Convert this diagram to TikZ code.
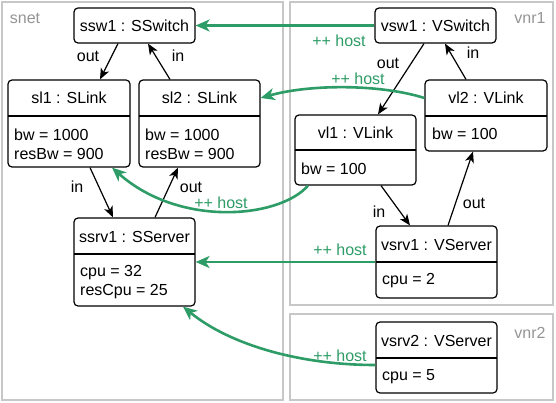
\documentclass[tikz,border=0pt]{standalone}
\usepackage{fontspec}
\setmainfont{Liberation Sans}
\usetikzlibrary{arrows.meta}
\definecolor{hostgreen}{RGB}{46,156,102}
\begin{document}
\begin{tikzpicture}[x=1pt,y=-1pt,
  font=\fontsize{16}{19}\selectfont,
  umlbox/.style={draw=black, line width=1.2pt, rounded corners=4pt, inner sep=0pt, fill=white},
  divider/.style={draw=black, line width=1.2pt},
  cont/.style={draw=black!22, line width=1.3pt},
  contlabel/.style={text=black!42, inner sep=0pt},
  txt/.style={inner sep=0pt},
  attr/.style={inner sep=0pt, anchor=west, align=left},
  rel/.style={draw=black, line width=1.2pt, -{Stealth[length=11pt,width=9pt,inset=3pt]}},
  rellabel/.style={inner sep=0pt},
  host/.style={draw=hostgreen, line width=2.6pt, -{Stealth[length=14pt,width=12pt,inset=4pt]}},
  hostlabel/.style={text=hostgreen, inner sep=0pt},
]
\useasboundingbox (0,0) rectangle (556,403);

% containers
\draw[cont] (2,2) rectangle (283,400);
\draw[cont] (290,2) rectangle (553,305);
\draw[cont] (290,314) rectangle (553,400);
\node[contlabel] (snetlbl) at (25,18) {snet};
\node[contlabel] (vnr1lbl) at (530,18) {vnr1};
\node[contlabel] (vnr2lbl) at (530,333) {vnr2};

% snet nodes
\node[umlbox, minimum width=121pt, minimum height=35pt] (ssw1) at (134.5,25.5) {};
\node[txt] (ssw1t) at (134.5,25.5) {ssw1 : SSwitch};

\node[umlbox, minimum width=122pt, minimum height=87pt] (sl1) at (69,123.5) {};
\draw[divider] (8,116) -- (130,116);
\node[txt] (sl1t) at (69,98) {sl1 : SLink};
\node[attr] (sl1a) at (14,144.5) {bw = 1000\\resBw = 900};

\node[umlbox, minimum width=121pt, minimum height=87pt] (sl2) at (199.5,123.5) {};
\draw[divider] (139,116) -- (260,116);
\node[txt] (sl2t) at (199.5,98) {sl2 : SLink};
\node[attr] (sl2a) at (145,144.5) {bw = 1000\\resBw = 900};

\node[umlbox, minimum width=121pt, minimum height=88pt] (ssrv1) at (134.5,262) {};
\draw[divider] (74,254) -- (195,254);
\node[txt] (ssrv1t) at (134.5,237) {ssrv1 : SServer};
\node[attr] (ssrv1a) at (80,282.5) {cpu = 32\\resCpu = 25};

% vnr1 nodes
\node[umlbox, minimum width=121pt, minimum height=35pt] (vsw1) at (435.5,25.5) {};
\node[txt] (vsw1t) at (435.5,25.5) {vsw1 : VSwitch};

\node[umlbox, minimum width=121pt, minimum height=70pt] (vl1) at (355.5,150) {};
\draw[divider] (295,150) -- (416,150);
\node[txt] (vl1t) at (355.5,133) {vl1 : VLink};
\node[attr] (vl1a) at (301,169) {bw = 100};

\node[umlbox, minimum width=122pt, minimum height=71pt] (vl2) at (486,115.5) {};
\draw[divider] (425,116) -- (547,116);
\node[txt] (vl2t) at (486,98) {vl2 : VLink};
\node[attr] (vl2a) at (432,134) {bw = 100};

\node[umlbox, minimum width=121pt, minimum height=72pt] (vsrv1) at (436.5,262) {};
\draw[divider] (376,262) -- (497,262);
\node[txt] (vsrv1t) at (436.5,245) {vsrv1 : VServer};
\node[attr] (vsrv1a) at (382,281) {cpu = 2};

% vnr2 node
\node[umlbox, minimum width=121pt, minimum height=71pt] (vsrv2) at (436.5,357.5) {};
\draw[divider] (376,358) -- (497,358);
\node[txt] (vsrv2t) at (436.5,341) {vsrv2 : VServer};
\node[attr] (vsrv2a) at (382,377) {cpu = 5};

% black relations
\draw[rel] ([xshift=-16.5pt]ssw1.south) -- ([xshift=31pt]sl1.north);
\node[rellabel] (l1) at (88,56) {out};
\draw[rel] ([xshift=-29.5pt]sl2.north) -- ([xshift=13.5pt]ssw1.south);
\node[rellabel] (l2) at (178,56) {in};
\draw[rel] ([xshift=21pt]sl1.south) -- ([xshift=-21.5pt]ssrv1.north);
\node[rellabel] (l3) at (77,187) {in};
\draw[rel] ([xshift=20.5pt]ssrv1.north) -- ([xshift=-21.5pt]sl2.south);
\node[rellabel] (l4) at (191,187) {out};

\draw[rel] ([xshift=-11.5pt]vsw1.south) -- ([xshift=22.5pt]vl1.north);
\node[rellabel] (l5) at (388,63) {out};
\draw[rel] ([xshift=-20pt]vl2.north) -- ([xshift=9.5pt]vsw1.south);
\node[rellabel] (l6) at (473,53) {in};
\draw[rel] ([xshift=25.5pt]vl1.south) -- ([xshift=-26.5pt]vsrv1.north);
\node[rellabel] (l7) at (379,212) {in};
\draw[rel] ([xshift=11.5pt]vsrv1.north) -- ([xshift=-13pt]vl2.south);
\node[rellabel] (l8) at (474,203) {out};

% host relations
\draw[host] (vsw1.west) -- (ssw1.east);
\node[hostlabel] (h1) at (339,41) {++ host};
\draw[host] ([yshift=17.5pt]vl2.west) .. controls (380,84) and (310,84) .. ([yshift=25.5pt]sl2.east);
\node[hostlabel] (h2) at (358,79) {++ host};
\draw[host] ([xshift=-47.5pt]vl1.south) .. controls (280,218) and (180,228) .. ([xshift=43pt]sl1.south);
\node[hostlabel] (h3) at (221,203) {++ host};
\draw[host] (vsrv1.west) -- (ssrv1.east);
\node[hostlabel] (h4) at (340,250) {++ host};
\draw[host] ([yshift=-7.5pt]vsrv2.west) .. controls (300,365) and (230,345) .. ([xshift=48.5pt]ssrv1.south);
\node[hostlabel] (h5) at (340,356) {++ host};
\end{tikzpicture}
\end{document}
